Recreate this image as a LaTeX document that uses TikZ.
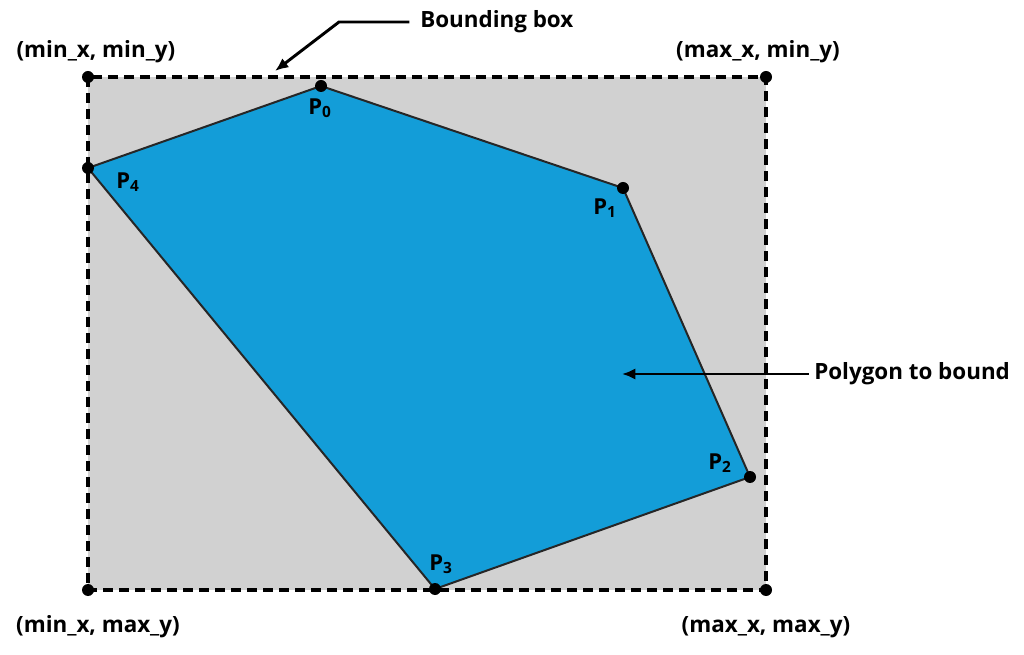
\documentclass[tikz,border=0pt]{standalone}
\usepackage{fontspec}
\setmainfont{Open Sans}
\usetikzlibrary{arrows.meta}
\definecolor{polyblue}{HTML}{139DD8}
\definecolor{boxgray}{HTML}{D1D1D1}
\begin{document}
\begin{tikzpicture}[x=0.75pt,y=-0.75pt,
  lbl/.style={font=\bfseries\fontsize{16.8}{19}\selectfont,inner sep=0pt},
  plbl/.style={font=\bfseries\fontsize{16.5}{18}\selectfont,inner sep=0pt},
  dotpt/.style={circle,fill=black,inner sep=0pt,minimum size=9pt},
  conn/.style={line width=2.2pt,-{Latex[length=10pt,width=8.5pt]}}]
\useasboundingbox (0,0) rectangle (1024,655);
% bounding box
\coordinate (tl) at (88,77);
\coordinate (tr) at (766,77);
\coordinate (br) at (766,590);
\coordinate (bl) at (88,590);
\fill[boxgray] (tl) rectangle (br);
% polygon
\coordinate (p0) at (321,86);
\coordinate (p1) at (623,188);
\coordinate (p2) at (750,477);
\coordinate (p3) at (435,589);
\coordinate (p4) at (88,168);
\filldraw[fill=polyblue,draw=black!85,line width=1.5pt,line join=round] (p0) -- (p1) -- (p2) -- (p3) -- (p4) -- cycle;
\draw[black,line width=2.5pt,dash pattern=on 7.5pt off 4.5pt] (tl) rectangle (br);
% dots
\foreach \c in {tl,tr,br,bl,p0,p1,p2,p3,p4} \node[dotpt] at (\c) {};
% point labels
\node[plbl] (l0) at (320,108) {P\textsubscript{0}};
\node[plbl] (l1) at (605,208) {P\textsubscript{1}};
\node[plbl] (l2) at (720,463) {P\textsubscript{2}};
\node[plbl] (l3) at (441,564) {P\textsubscript{3}};
\node[plbl] (l4) at (128,182) {P\textsubscript{4}};
% corner labels
\node[lbl] (ctl) at (96,52) {(min\_x, min\_y)};
\node[lbl] (ctr) at (758,52) {(max\_x, min\_y)};
\node[lbl] (cbl) at (98,627) {(min\_x, max\_y)};
\node[lbl] (cbr) at (766,627) {(max\_x, max\_y)};
% annotations
\node[lbl,anchor=west] (bb) at (420,22) {Bounding box};
\coordinate (bbend) at (275,71);
\coordinate (bbk) at (339,22);
\draw[conn] ([xshift=-8pt]bb.west) -- (bbk) -- (bbend);
\node[lbl,anchor=west] (pb) at (814,374) {Polygon to bound};
\coordinate (pbend) at (622,374);
\draw[conn] ([xshift=-4pt]pb.west) -- (pbend);
\end{tikzpicture}
\end{document}
